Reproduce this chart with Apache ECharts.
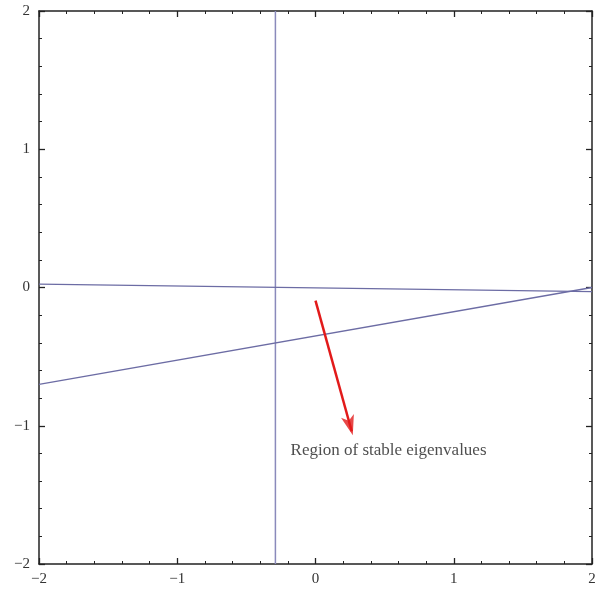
<!DOCTYPE html>
<html>
<head>
<meta charset="utf-8">
<script src="https://cdn.jsdelivr.net/npm/echarts@6/dist/echarts.min.js"></script>
<style>
  html, body { margin: 0; padding: 0; background: #fff; }
  #chart { width: 601px; height: 590px; }
</style>
</head>
<body>
<div id="chart"></div>
<script>
// axis range and ticks
const axisMin = -2;
const axisMax = 2;
const tickStep = 1;

// boundary lines (x, y)
const verticalLine = [[-0.29, -2], [-0.29, 2]];
const flatLine = [[-2, 0.025], [2, -0.03]];
const slopedLine = [[-2, -0.7], [2, 0.0]];

// red arrow and its note
const arrowFrom = [0.0, -0.095];
const arrowTo = [0.262, -1.04];
const noteText = "Region of stable eigenvalues";
const notePoint = [-0.18, -1.18];

const serif = "Liberation Serif";
const lineColor = "#6c6ca4";
const arrowColor = "#e21a1a";
const headSize = [10, 20];

function fmt(v) {
  return v < 0 ? "\u2212" + Math.abs(v) : String(v);
}

function baseAxis(extra) {
  return Object.assign({
    type: "value",
    min: axisMin,
    max: axisMax,
    interval: tickStep,
    axisLine: { show: true, onZero: false, lineStyle: { color: "#222", width: 1.5 } },
    axisTick: { show: true, inside: true, length: 6, lineStyle: { color: "#222", width: 1.3 } },
    minorTick: { show: true, splitNumber: 5, length: 3, lineStyle: { color: "#222", width: 1 } },
    splitLine: { show: false },
    axisLabel: { show: true, fontFamily: serif, fontSize: 15, color: "#333", formatter: fmt }
  }, extra);
}

const chart = echarts.init(document.getElementById("chart"));
chart.setOption({
  animation: false,
  backgroundColor: "#fff",
  grid: { left: 39, top: 11, width: 553, height: 553 },
  xAxis: [
    baseAxis({ position: "bottom", axisLabel: { fontFamily: serif, fontSize: 15, color: "#333", margin: 8, formatter: fmt } }),
    baseAxis({ position: "top", axisLabel: { show: false } })
  ],
  yAxis: [
    baseAxis({ position: "left", axisLabel: { fontFamily: serif, fontSize: 15, color: "#333", margin: 9, formatter: fmt } }),
    baseAxis({ position: "right", axisLabel: { show: false } })
  ],
  series: [
    {
      type: "line",
      data: verticalLine,
      symbol: "none",
      lineStyle: { color: "#8a8abb", width: 1.5 }
    },
    {
      type: "line",
      data: flatLine,
      symbol: "none",
      lineStyle: { color: lineColor, width: 1.3 }
    },
    {
      type: "line",
      data: slopedLine,
      symbol: "none",
      lineStyle: { color: lineColor, width: 1.3 }
    },
    {
      id: "arrowShaft",
      type: "line",
      data: [arrowFrom, arrowTo],
      symbol: "none",
      lineStyle: { color: arrowColor, width: 2.5 }
    },
    {
      id: "arrowHead",
      type: "scatter",
      data: [arrowTo],
      symbol: "arrow",
      symbolSize: headSize,
      itemStyle: { color: arrowColor }
    },
    {
      type: "scatter",
      symbolSize: 0,
      data: [notePoint],
      label: {
        show: true,
        position: "right",
        distance: 0,
        formatter: noteText,
        fontFamily: serif,
        fontSize: 17,
        color: "#222"
      }
    }
  ]
});

// turn the head along the shaft; nudge it a little forward so the tip meets the end
const p0 = chart.convertToPixel({ gridIndex: 0 }, arrowFrom);
const p1 = chart.convertToPixel({ gridIndex: 0 }, arrowTo);
const dx = p1[0] - p0[0];
const dy = p1[1] - p0[1];
const len = Math.sqrt(dx * dx + dy * dy);
const tilt = Math.atan2(dx, dy) * 180 / Math.PI;
const nudge = 4;
chart.setOption({
  series: [{
    id: "arrowHead",
    symbolRotate: 180 + tilt,
    symbolOffset: [nudge * dx / len, nudge * dy / len]
  }]
});
</script>
</body>
</html>
